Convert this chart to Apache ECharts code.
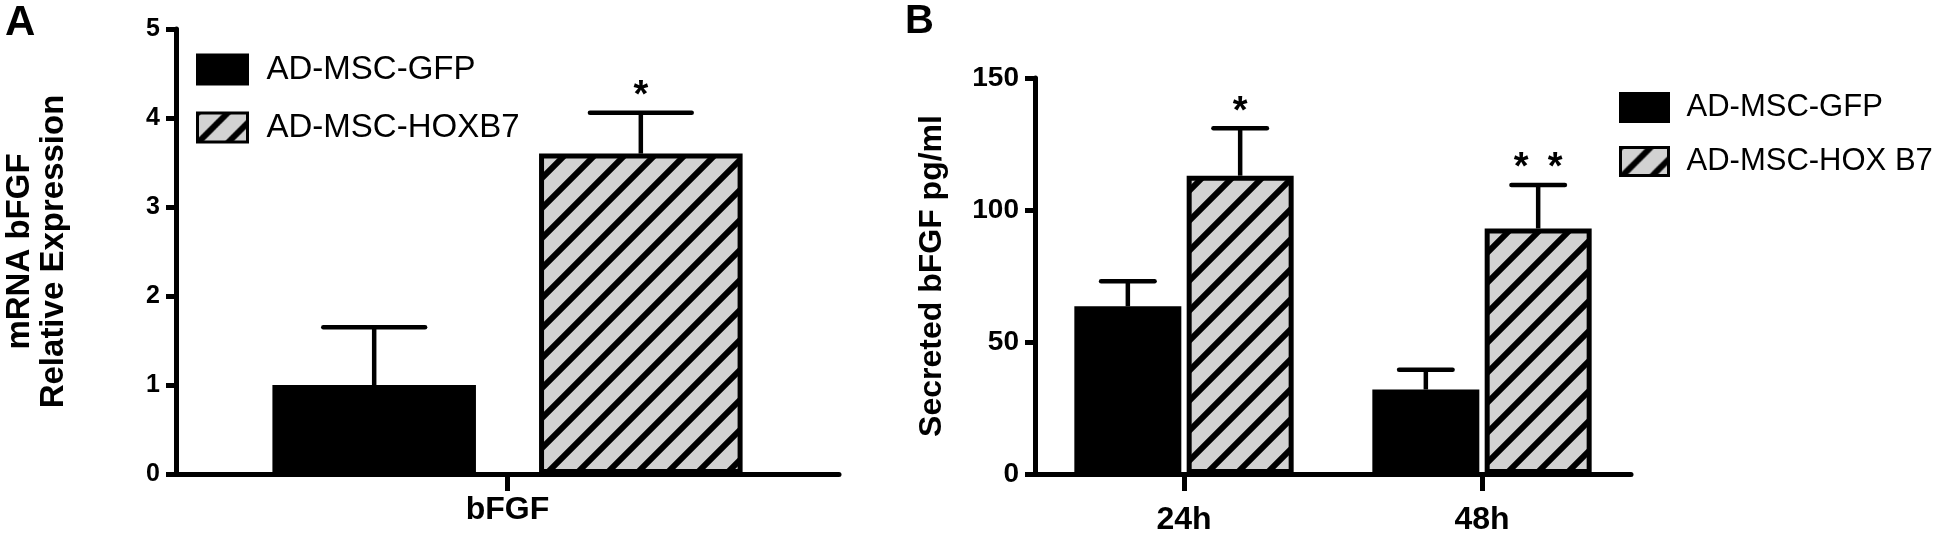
<!DOCTYPE html>
<html>
<head>
<meta charset="utf-8">
<script src="https://cdn.jsdelivr.net/npm/echarts@6/dist/echarts.min.js"></script>
<style>
  html, body { margin: 0; padding: 0; background: #fff; }
  #chart { width: 1946px; height: 536px; }
</style>
</head>
<body>
<div id="chart"></div>
<script>
// ---------- data ----------
const catsA = ['bFGF'];
const gfpA = [1.0];
const gfpErrA = [0.65];
const hoxA = [3.6];
const hoxErrA = [0.46];
const sigGfpA = [''];
const sigHoxA = ['*'];

const catsB = ['24h', '48h'];
const gfpB = [63.5, 32];
const gfpErrB = [9.5, 7.5];
const hoxB = [113, 93];
const hoxErrB = [18, 16.5];
const sigGfpB = ['', ''];
const sigHoxB = ['*', '* *'];

const namesA = ['AD-MSC-GFP', 'AD-MSC-HOXB7'];
const namesB = ['AD-MSC-GFP', 'AD-MSC-HOX B7'];
const yTitleA = 'mRNA bFGF\nRelative Expression';
const yTitleB = 'Secreted bFGF pg/ml';

// ---------- styling ----------
const FONT = "'Liberation Sans', Arial, Helvetica, sans-serif";
const GRAY = '#d2d2d2';

function makeHatch() {
  const S = 30;
  const c = document.createElement('canvas');
  c.width = S; c.height = S;
  const ctx = c.getContext('2d');
  ctx.fillStyle = GRAY;
  ctx.fillRect(0, 0, S, S);
  ctx.strokeStyle = '#000';
  ctx.lineWidth = 6;
  ctx.lineCap = 'butt';
  [0, S, 2 * S].forEach(k => {
    ctx.beginPath();
    ctx.moveTo(k + 5, -5);
    ctx.lineTo(k - S - 5, S + 5);
    ctx.stroke();
  });
  return c;
}
const hatch = { image: makeHatch(), repeat: 'repeat' };

const layoutA = { barW: 0.307, gap: 0.31 };
const layoutB = { barW: 0.359, gap: 0.05 };

function errSeries(name, xi, vals, errs, sigs, layout, side) {
  const off = side * (layout.barW * (1 + layout.gap)) / 2;
  return {
    type: 'custom',
    name: name + ' err',
    xAxisIndex: xi, yAxisIndex: xi,
    clip: false,
    silent: true,
    z: 5,
    data: vals.map((v, i) => [i, v, errs[i]]),
    renderItem: function (params, api) {
      const band = api.size([1, 0])[0];
      const base = api.coord([api.value(0), api.value(1)]);
      const top = api.coord([api.value(0), api.value(1) + api.value(2)]);
      const x = base[0] + off * band;
      const cap = layout.barW * band / 4;
      const children = [
        { type: 'line', shape: { x1: x, y1: base[1], x2: x, y2: top[1] }, style: { stroke: '#000', lineWidth: 4.5 } },
        { type: 'line', shape: { x1: x - cap, y1: top[1], x2: x + cap, y2: top[1] }, style: { stroke: '#000', lineWidth: 4.5, lineCap: 'round' } }
      ];
      const s = sigs[params.dataIndex];
      if (s) {
        const parts = s.split(' ');
        const step = 34;
        parts.forEach((p, j) => {
          children.push({
            type: 'text',
            style: {
              text: p, x: x + (j - (parts.length - 1) / 2) * step, y: top[1] - 16,
              align: 'center', verticalAlign: 'middle',
              font: 'bold 38px ' + FONT, fill: '#000'
            }
          });
        });
      }
      return { type: 'group', children: children };
    }
  };
}

function barSeries(name, xi, vals, layout, hatched) {
  return {
    type: 'bar', name: name,
    xAxisIndex: xi, yAxisIndex: xi,
    data: vals,
    barWidth: (layout.barW * 100) + '%',
    barGap: (layout.gap * 100) + '%',
    itemStyle: hatched
      ? { color: hatch, borderColor: '#000', borderWidth: 5 }
      : { color: '#000', borderColor: '#000', borderWidth: 0 },
    emphasis: { disabled: true }
  };
}

function xAxisCfg(gi, cats, margin) {
  return {
    type: 'category', gridIndex: gi, data: cats,
    axisLine: { show: true, lineStyle: { color: '#000', width: 5 } },
    axisTick: { show: true, interval: 0, alignWithLabel: true, length: 17, lineStyle: { color: '#000', width: 5 } },
    axisLabel: { color: '#000', fontFamily: FONT, fontWeight: 'bold', fontSize: 32, margin: margin },
    splitLine: { show: false }
  };
}
function yAxisCfg(gi, max, interval, fs, title, tfs, gap) {
  return {
    type: 'value', gridIndex: gi, min: 0, max: max, interval: interval,
    name: title, nameLocation: 'middle', nameRotate: 90, nameGap: gap,
    nameTextStyle: { color: '#000', fontFamily: FONT, fontWeight: 'bold', fontSize: tfs, lineHeight: 34 },
    axisLine: { show: true, lineStyle: { color: '#000', width: 5 } },
    axisTick: { show: true, length: 10, lineStyle: { color: '#000', width: 5 } },
    axisLabel: { color: '#000', fontFamily: FONT, fontWeight: 'bold', fontSize: fs, margin: 16 },
    splitLine: { show: false }
  };
}

const chart = echarts.init(document.getElementById('chart'), null, { renderer: 'canvas' });
chart.setOption({
  animation: false,
  backgroundColor: '#fff',
  graphic: [
    { type: 'text', left: 5, top: 2, style: { text: 'A', font: 'bold 42px ' + FONT, fill: '#000' } },
    { type: 'text', left: 905, top: 2, style: { text: 'B', font: 'bold 40px ' + FONT, fill: '#000' } }
  ],
  legend: [
    {
      data: namesA, orient: 'vertical', left: 196, top: 53, padding: 0,
      icon: 'rect', itemWidth: 50, itemHeight: 29, itemGap: 25,
      itemStyle: { borderWidth: 3 },
      selectedMode: false,
      textStyle: { color: '#000', fontFamily: FONT, fontSize: 33, lineHeight: 29, padding: [0, 0, 0, 14] }
    },
    {
      data: namesB, orient: 'vertical', left: 1619, top: 92, padding: 0,
      icon: 'rect', itemWidth: 48, itemHeight: 28, itemGap: 23,
      itemStyle: { borderWidth: 3 },
      selectedMode: false,
      textStyle: { color: '#000', fontFamily: FONT, fontSize: 31, lineHeight: 28, padding: [0, 0, 0, 13] }
    }
  ],
  grid: [
    { left: 176, top: 29, width: 663, height: 445 },
    { left: 1035, top: 78, width: 596, height: 399 }
  ],
  xAxis: [xAxisCfg(0, catsA, 20), xAxisCfg(1, catsB, 30)],
  yAxis: [
    yAxisCfg(0, 5, 1, 25, yTitleA, 33, 105),
    yAxisCfg(1, 150, 50, 28, yTitleB, 32, 86)
  ],
  series: [
    barSeries(namesA[0], 0, gfpA, layoutA, false),
    barSeries(namesA[1], 0, hoxA, layoutA, true),
    errSeries(namesA[0], 0, gfpA, gfpErrA, sigGfpA, layoutA, -1),
    errSeries(namesA[1], 0, hoxA, hoxErrA, sigHoxA, layoutA, 1),
    barSeries(namesB[0], 1, gfpB, layoutB, false),
    barSeries(namesB[1], 1, hoxB, layoutB, true),
    errSeries(namesB[0], 1, gfpB, gfpErrB, sigGfpB, layoutB, -1),
    errSeries(namesB[1], 1, hoxB, hoxErrB, sigHoxB, layoutB, 1)
  ]
});
</script>
</body>
</html>
